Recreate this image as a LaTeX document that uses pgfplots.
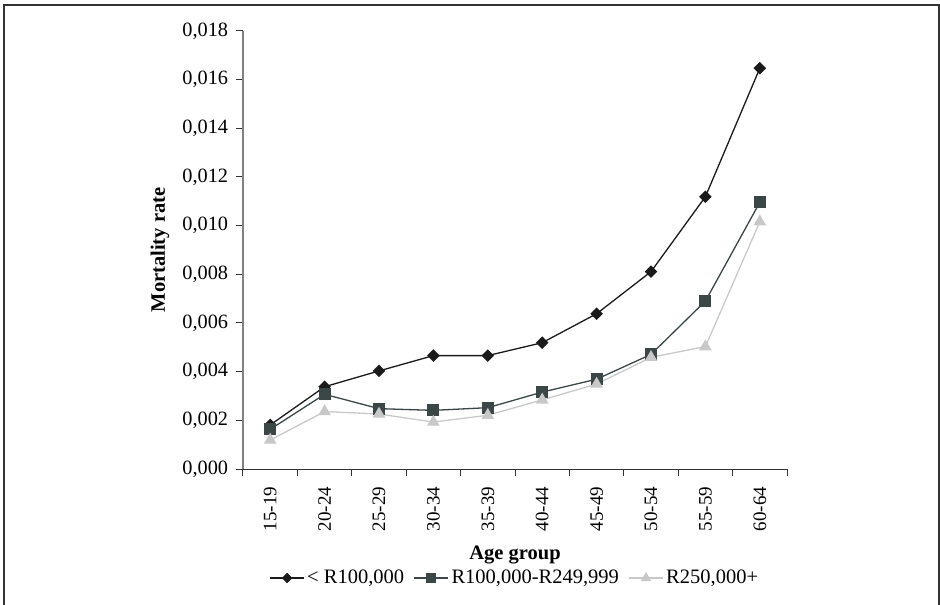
\documentclass[border=0pt]{standalone}
\usepackage{fontspec}
\setmainfont{Liberation Serif}
\usepackage{pgfplots}
\pgfplotsset{compat=1.18}
\definecolor{sA}{HTML}{1A1A1A}
\definecolor{sB}{HTML}{3B4747}
\definecolor{sC}{HTML}{C8C8C8}
\begin{document}
\fontsize{20}{24}\selectfont
\begin{tikzpicture}[x=1pt,y=1pt]
\useasboundingbox (-243,-136) rectangle (697,469);
\draw[line width=1.5pt, color=black!80] (-239,-150) -- (-239,464) -- (696,464) -- (696,-150);
\begin{axis}[
  at={(0,0)}, anchor=south west,
  scale only axis, width=544pt, height=438pt,
  xmin=-0.5, xmax=9.5, ymin=0, ymax=0.018,
  axis x line=bottom, axis y line=left,
  x axis line style={-, draw=black!80, line width=1pt},
  y axis line style={-, draw=black!50, line width=1.2pt},
  xtick={0,...,9},
  xticklabels={15-19,20-24,25-29,30-34,35-39,40-44,45-49,50-54,55-59,60-64},
  minor xtick={-0.5,0.5,...,9.5},
  major x tick style={draw=none},
  minor x tick style={draw=black!80, line width=1pt},
  minor tick length=7pt,
  ytick={0,0.002,...,0.0181},
  scaled y ticks=false,
  major y tick style={draw=black!80, line width=1pt},
  major tick length=7pt,
  tick align=outside,
  xticklabel shift=4pt,
  xticklabel style={rotate=90, anchor=east, font=\fontsize{19}{22}\selectfont},
  yticklabel style={font=\fontsize{20.3}{24}\selectfont, xshift=-1pt},
  /pgf/number format/.cd, fixed, fixed zerofill, precision=3, use comma, assume math mode=true,
  /pgfplots/.cd,
  xlabel={Age group}, ylabel={Mortality rate},
  xlabel style={at={(axis description cs:0.5,-0.197)}, anchor=center, font=\bfseries\fontsize{20.5}{24}\selectfont},
  ylabel style={at={(axis description cs:-0.1526,0.5)}, anchor=center, font=\bfseries\fontsize{20.5}{24}\selectfont},
  legend columns=3,
  legend style={draw=none, at={(0.5,-0.2489)}, anchor=center, font=\fontsize{20.5}{24}\selectfont,
    nodes={inner sep=2.5pt},
    /tikz/every even column/.append style={column sep=7pt}},
  legend image code/.code={\draw[mark repeat=2,mark phase=2, mark size=0.8*\pgfplotmarksize] plot coordinates {(0pt,0pt)(17pt,0pt)(34pt,0pt)};},
]
\addplot[color=sA, line width=1.3pt, mark=square*, mark size=3.8pt, mark options={rotate=45, fill=sA, draw=sA}]
 coordinates {(0,0.00181)(1,0.00338)(2,0.00403)(3,0.00466)(4,0.00466)(5,0.00519)(6,0.00638)(7,0.00811)(8,0.01119)(9,0.01647)};
\addlegendentry{< R100,000}
\addplot[color=sB, line width=1.3pt, mark=square*, mark size=5.3pt, mark options={fill=sB, draw=sB}]
 coordinates {(0,0.00163)(1,0.00307)(2,0.00248)(3,0.00241)(4,0.00252)(5,0.00316)(6,0.00369)(7,0.00471)(8,0.00690)(9,0.01096)};
\addlegendentry{R100,000-R249,999}
\addplot[color=sC, line width=1.3pt, mark=triangle*, mark size=6pt, mark options={fill=sC, draw=sC}]
 coordinates {(0,0.00119)(1,0.00236)(2,0.00226)(3,0.00193)(4,0.00221)(5,0.00284)(6,0.00349)(7,0.00459)(8,0.00503)(9,0.01016)};
\addlegendentry{R250,000+}
\end{axis}
\end{tikzpicture}
\end{document}
